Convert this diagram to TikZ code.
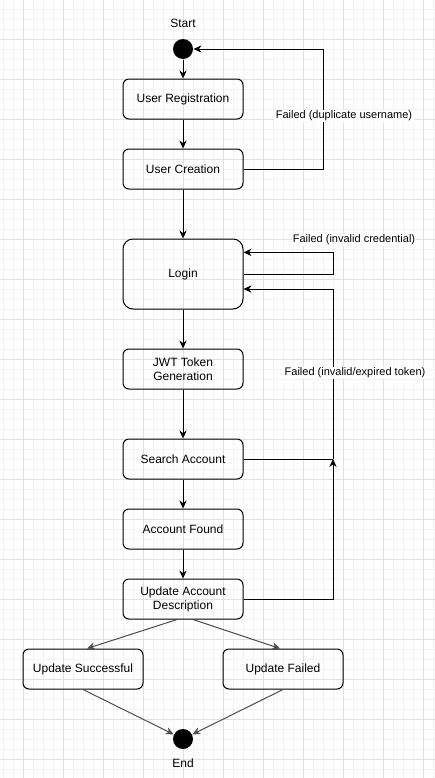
\documentclass[tikz,border=0pt]{standalone}
\usepackage{fontspec}
\setmainfont{Liberation Sans}
\usetikzlibrary{positioning, arrows.meta}
\definecolor{gridmajor}{HTML}{E0E0E0}
\definecolor{gridminor}{HTML}{F3F3F3}
\tikzset{
  state/.style={rectangle, draw, rounded corners=4.5pt, minimum width=90pt, minimum height=30pt,
    inner sep=0pt, align=center, font=\fontsize{9}{10.6}\selectfont},
  terminal/.style={circle, fill, minimum size=15pt, inner sep=0pt},
  note/.style={fill=white, inner sep=1pt, font=\fontsize{8.25}{10}\selectfont},
  split/.style={->, draw=black!70},
}
\begin{document}
\begin{tikzpicture}[x=0.75pt, y=-0.75pt, line width=0.75pt, >={Stealth[length=6pt, width=5.5pt]}]
    \useasboundingbox (0,0) rectangle (435,778);
    % background grid
    \foreach \gx in {3,13,...,433} \draw[gridminor] (\gx,0) -- (\gx,778);
    \foreach \gy in {9,19,...,769} \draw[gridminor] (0,\gy) -- (435,\gy);
    \foreach \gx in {23,63,...,423} \draw[gridmajor] (\gx,0) -- (\gx,778);
    \foreach \gy in {39,79,...,759} \draw[gridmajor] (0,\gy) -- (435,\gy);

    \node (start)    at (183,49)  [terminal] {};
    \node (startlbl) at (183,23)  {\fontsize{9}{10}\selectfont Start};
    \node (reg)      at (183,99)  [state] {User Registration};
    \node (creation) at (183,169) [state] {User Creation};
    \node (login)    at (183,274) [state, minimum height=52.5pt, rounded corners=7.5pt] {Login};
    \node (jwt)      at (183,369) [state] {JWT Token\\Generation};
    \node (search)   at (183,459) [state] {Search Account};
    \node (found)    at (183,529) [state] {Account Found};
    \node (update)   at (183,599) [state] {Update Account\\Description};
    \node (success)  at (83,669)  [state] {Update Successful};
    \node (failed)   at (283,669) [state] {Update Failed};
    \node (end)      at (183,739) [terminal] {};
    \node (endlbl)   at (183,763) {\fontsize{9}{10}\selectfont End};

    \coordinate (dupcorner) at (323,49);
    \coordinate (credcorner) at (333,274);
    \coordinate (tokenjoin) at (333,459);

    \draw[->] (start) -- (reg);
    \draw[->] (reg) -- (creation);
    \draw[->] (creation) -- (login);
    \draw[->] (login) -- (jwt);
    \draw[->] (jwt) -- (search);
    \draw[->] (search) -- (found);
    \draw[->] (found) -- (update);
    \draw[split] ([xshift=-4.5pt]update.south) -- ([xshift=3pt]success.north);
    \draw[split] ([xshift=7.5pt]update.south) -- ([xshift=-2.25pt]failed.north);
    \draw[split] (success.south) -- (end);
    \draw[split] (failed.south) -- (end);

    % failure loops
    \draw[->] (creation.east) -| (dupcorner) -- (start);
    \draw[->] (login.east) -- (credcorner) |- ([yshift=16.2pt]login.east);
    \draw (search.east) -- (tokenjoin);
    \draw[->] (tokenjoin) |- ([yshift=-11.25pt]login.east);
    \draw[->] (update.east) -| (tokenjoin);

    \node (dupnote)   at (344,116) [note] {Failed (duplicate username)};
    \node (crednote)  at (354,240) [note] {Failed (invalid credential)};
    \node (tokennote) at (355,373) [note] {Failed (invalid/expired token)};
\end{tikzpicture}
\end{document}
